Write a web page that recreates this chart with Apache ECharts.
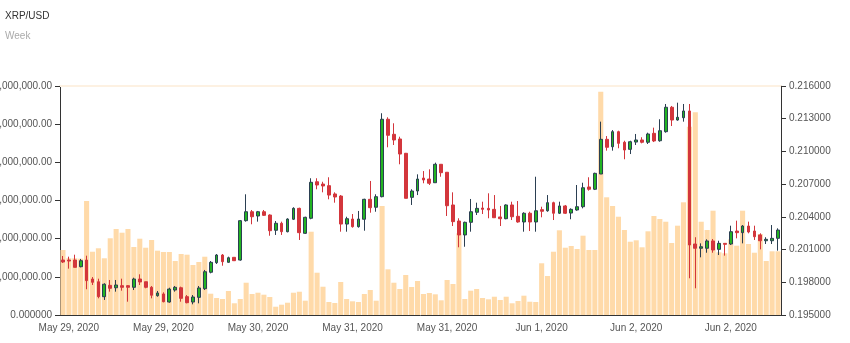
<!DOCTYPE html>
<html>
<head>
<meta charset="utf-8">
<title>XRP/USD</title>
<script src="https://cdn.jsdelivr.net/npm/echarts@6/dist/echarts.min.js"></script>
<style>
  html, body { margin: 0; padding: 0; background: #fff; }
  #chart { width: 850px; height: 343px; }
</style>
</head>
<body>
<div id="chart"></div>
<script>
// Hourly XRP/USD candles starting May 29, 2020 00:00 UTC
const startTime = Date.UTC(2020, 4, 29, 0, 0, 0);
const hourCount = 122;
const monthNames = ['Jan', 'Feb', 'Mar', 'Apr', 'May', 'Jun', 'Jul', 'Aug', 'Sep', 'Oct', 'Nov', 'Dec'];
const categories = [];
for (let i = 0; i < hourCount; i++) {
  const d = new Date(startTime + i * 3600 * 1000);
  categories.push(monthNames[d.getUTCMonth()] + ' ' + d.getUTCDate() + ', ' + d.getUTCFullYear());
}

const opens = [
  0.20004, 0.20004, 0.20004, 0.19943, 0.20004, 0.19830, 0.19805, 0.19668, 0.19772, 0.19750,
  0.19769, 0.19769, 0.19754, 0.19830, 0.19805, 0.19754, 0.19677, 0.19693, 0.19619, 0.19729,
  0.19750, 0.19668, 0.19619, 0.19662, 0.19741, 0.19892, 0.19980, 0.20050, 0.19983, 0.20029,
  0.20004, 0.20365, 0.20447, 0.20408, 0.20447, 0.20417, 0.20277, 0.20341, 0.20264, 0.20378,
  0.20478, 0.20249, 0.20387, 0.20722, 0.20701, 0.20686, 0.20610, 0.20591, 0.20334, 0.20380,
  0.20310, 0.20378, 0.20561, 0.20488, 0.20585, 0.21295, 0.21157, 0.21114, 0.20983, 0.20579,
  0.20637, 0.20756, 0.20747, 0.20713, 0.20882, 0.20809, 0.20509, 0.20362, 0.20234, 0.20350,
  0.20442, 0.20481, 0.20478, 0.20469, 0.20399, 0.20383, 0.20509, 0.20405, 0.20353, 0.20433,
  0.20353, 0.20466, 0.20456, 0.20530, 0.20433, 0.20500, 0.20435, 0.20463, 0.20493, 0.20674,
  0.20653, 0.20793, 0.21111, 0.21043, 0.21181, 0.21084, 0.21019, 0.21086, 0.21105, 0.21084,
  0.21166, 0.21098, 0.21181, 0.21405, 0.21288, 0.21309, 0.21371, 0.20151, 0.20112, 0.20112,
  0.20179, 0.20102, 0.20157, 0.20151, 0.20270, 0.20255, 0.20316, 0.20270, 0.20234, 0.20181,
  0.20181, 0.20203
];
const closes = [
  0.19986, 0.19995, 0.19937, 0.19998, 0.19815, 0.19800, 0.19668, 0.19782, 0.19745, 0.19775,
  0.19754, 0.19754, 0.19830, 0.19803, 0.19754, 0.19681, 0.19702, 0.19622, 0.19738, 0.19754,
  0.19653, 0.19613, 0.19665, 0.19748, 0.19897, 0.19983, 0.20050, 0.19989, 0.20025, 0.19998,
  0.20365, 0.20447, 0.20401, 0.20447, 0.20414, 0.20273, 0.20341, 0.20264, 0.20380, 0.20478,
  0.20255, 0.20396, 0.20717, 0.20692, 0.20683, 0.20600, 0.20582, 0.20334, 0.20383, 0.20310,
  0.20380, 0.20561, 0.20484, 0.20585, 0.21295, 0.21148, 0.21105, 0.20976, 0.20570, 0.20637,
  0.20747, 0.20738, 0.20708, 0.20882, 0.20805, 0.20502, 0.20356, 0.20234, 0.20350, 0.20447,
  0.20478, 0.20469, 0.20463, 0.20392, 0.20383, 0.20509, 0.20401, 0.20353, 0.20433, 0.20353,
  0.20456, 0.20451, 0.20530, 0.20433, 0.20500, 0.20433, 0.20469, 0.20493, 0.20667, 0.20653,
  0.20799, 0.21111, 0.21038, 0.21181, 0.21074, 0.21013, 0.21089, 0.21105, 0.21084, 0.21160,
  0.21096, 0.21190, 0.21405, 0.21288, 0.21313, 0.21371, 0.20142, 0.20112, 0.20126, 0.20179,
  0.20096, 0.20157, 0.20148, 0.20264, 0.20255, 0.20316, 0.20261, 0.20218, 0.20181, 0.20194,
  0.20203, 0.20279
];
const lows = [
  0.19977, 0.19925, 0.19937, 0.19937, 0.19736, 0.19775, 0.19653, 0.19638, 0.19714, 0.19714,
  0.19723, 0.19622, 0.19729, 0.19775, 0.19745, 0.19653, 0.19668, 0.19616, 0.19613, 0.19714,
  0.19622, 0.19607, 0.19598, 0.19607, 0.19729, 0.19882, 0.19968, 0.19952, 0.19980, 0.19995,
  0.19998, 0.20356, 0.20332, 0.20356, 0.20408, 0.20227, 0.20234, 0.20234, 0.20258, 0.20371,
  0.20188, 0.20243, 0.20378, 0.20653, 0.20625, 0.20561, 0.20530, 0.20264, 0.20264, 0.20301,
  0.20301, 0.20273, 0.20438, 0.20447, 0.20579, 0.21038, 0.21059, 0.20882, 0.20570, 0.20509,
  0.20600, 0.20708, 0.20692, 0.20713, 0.20768, 0.20408, 0.20316, 0.20121, 0.20126, 0.20264,
  0.20417, 0.20426, 0.20387, 0.20392, 0.20316, 0.20378, 0.20371, 0.20346, 0.20264, 0.20270,
  0.20264, 0.20396, 0.20447, 0.20371, 0.20426, 0.20426, 0.20378, 0.20456, 0.20478, 0.20640,
  0.20646, 0.20793, 0.21007, 0.21007, 0.21029, 0.20928, 0.20976, 0.21059, 0.21074, 0.21068,
  0.21086, 0.21089, 0.21172, 0.21233, 0.21282, 0.21273, 0.19837, 0.19745, 0.20029, 0.20071,
  0.20071, 0.20050, 0.20044, 0.20142, 0.20203, 0.20157, 0.20249, 0.20188, 0.20102, 0.20151,
  0.20151, 0.20090
];
const highs = [
  0.20041, 0.20035, 0.20053, 0.20014, 0.20044, 0.19848, 0.19833, 0.19791, 0.19821, 0.19821,
  0.19833, 0.19775, 0.19842, 0.19873, 0.19805, 0.19766, 0.19720, 0.19708, 0.19750, 0.19766,
  0.19760, 0.19683, 0.19683, 0.19766, 0.19913, 0.19995, 0.20059, 0.20059, 0.20035, 0.20032,
  0.20371, 0.20607, 0.20463, 0.20454, 0.20463, 0.20423, 0.20362, 0.20356, 0.20387, 0.20488,
  0.20484, 0.20401, 0.20754, 0.20754, 0.20722, 0.20763, 0.20625, 0.20600, 0.20401, 0.20426,
  0.20454, 0.20566, 0.20729, 0.20607, 0.21350, 0.21313, 0.21258, 0.21135, 0.20986, 0.20653,
  0.20790, 0.20820, 0.20836, 0.20897, 0.20882, 0.20809, 0.20625, 0.20387, 0.20356, 0.20564,
  0.20530, 0.20539, 0.20616, 0.20600, 0.20500, 0.20515, 0.20539, 0.20545, 0.20442, 0.20447,
  0.20768, 0.20493, 0.20600, 0.20539, 0.20539, 0.20509, 0.20478, 0.20692, 0.20713, 0.20763,
  0.20805, 0.21273, 0.21141, 0.21196, 0.21190, 0.21098, 0.21098, 0.21160, 0.21130, 0.21172,
  0.21218, 0.21295, 0.21435, 0.21417, 0.21447, 0.21435, 0.21435, 0.20213, 0.20157, 0.20194,
  0.20197, 0.20181, 0.20157, 0.20319, 0.20365, 0.20325, 0.20356, 0.20319, 0.20249, 0.20213,
  0.20325, 0.20295
];
const volumes = [
  1703000, 1486000, 1486000, 1475000, 2987000, 1658000, 1748000, 1486000, 2010000, 2253000,
  2156000, 2253000, 1782000, 1999000, 1763000, 1965000, 1685000, 1651000, 1651000, 1415000,
  1598000, 1580000, 1310000, 1389000, 1527000, 558000, 445000, 419000, 629000, 307000,
  419000, 846000, 550000, 584000, 532000, 472000, 217000, 270000, 322000, 584000,
  610000, 375000, 2182000, 1108000, 741000, 341000, 314000, 865000, 419000, 359000,
  341000, 550000, 655000, 375000, 2856000, 1197000, 846000, 681000, 1048000, 734000,
  891000, 550000, 576000, 542000, 385000, 917000, 812000, 2141000, 419000, 637000,
  681000, 445000, 411000, 479000, 393000, 479000, 307000, 367000, 506000, 348000,
  341000, 1355000, 1022000, 1658000, 2219000, 1763000, 1808000, 1729000, 2078000, 1703000,
  1703000, 5850000, 3084000, 2856000, 2575000, 2227000, 1920000, 1957000, 1774000, 2193000,
  2594000, 2515000, 2444000, 1886000, 2340000, 2953000, 4933000, 5311000, 2444000, 2227000,
  2733000, 1643000, 1617000, 1983000, 1816000, 2733000, 1860000, 1632000, 2122000, 1415000,
  1669000, 1669000
];

// Axis ranges and tick steps
const volumeMax = 6000000;
const volumeStep = 1000000;
const priceMin = 0.195;
const priceMax = 0.216;
const priceStep = 0.003;

// ECharts candlestick order: [open, close, lowest, highest]
const candles = opens.map((o, i) => [o, closes[i], lows[i], highs[i]]);

const fontFamily = '"Liberation Sans", Arial, Helvetica, sans-serif';
const axisColor = '#333';
const labelColor = '#555';
const labelSize = 10;

const chart = echarts.init(document.getElementById('chart'), null, { renderer: 'canvas' });
chart.setOption({
  animation: false,
  backgroundColor: '#fff',
  textStyle: { fontFamily: fontFamily },
  title: {
    text: 'XRP/USD',
    subtext: 'Week',
    left: 0,
    top: 6,
    padding: 5,
    itemGap: 10,
    textStyle: { fontSize: 10, fontWeight: 'normal', color: '#333', fontFamily: fontFamily },
    subtextStyle: { fontSize: 10, color: '#aaa', fontFamily: fontFamily }
  },
  grid: { left: 60, right: 69, top: 86, bottom: 28, containLabel: false, outerBoundsMode: 'none' },
  xAxis: [
    {
      type: 'category',
      data: categories,
      boundaryGap: true,
      axisLine: { lineStyle: { color: axisColor, width: 1 } },
      axisTick: {
        alignWithLabel: true,
        length: 5,
        interval: (i) => i % 16 === 9,
        lineStyle: { color: axisColor }
      },
      axisLabel: {
        interval: (i) => i % 16 === 1,
        color: labelColor,
        fontSize: labelSize,
        margin: 8,
        fontFamily: fontFamily
      },
      splitLine: { show: false }
    },
    {
      type: 'category',
      position: 'top',
      data: categories,
      boundaryGap: true,
      axisLine: { lineStyle: { color: '#fdf1e2', width: 2 } },
      axisTick: { show: false },
      axisLabel: { show: false },
      splitLine: { show: false }
    }
  ],
  yAxis: [
    {
      type: 'value',
      position: 'left',
      min: 0,
      max: volumeMax,
      interval: volumeStep,
      axisLine: { show: true, lineStyle: { color: axisColor } },
      axisTick: { show: true, length: 5, lineStyle: { color: axisColor } },
      splitLine: { show: false },
      axisLabel: {
        color: labelColor,
        fontSize: labelSize,
        margin: 8,
        fontFamily: fontFamily,
        formatter: (v) => v === 0 ? '0.000000' :
          v.toLocaleString('en-US', { minimumFractionDigits: 2, maximumFractionDigits: 2 })
      }
    },
    {
      type: 'value',
      position: 'right',
      min: priceMin,
      max: priceMax,
      interval: priceStep,
      scale: true,
      axisLine: { show: true, lineStyle: { color: axisColor } },
      axisTick: { show: true, length: 5, lineStyle: { color: axisColor } },
      splitLine: { show: false },
      axisLabel: {
        color: labelColor,
        fontSize: labelSize,
        margin: 8,
        fontFamily: fontFamily,
        formatter: (v) => v.toFixed(6)
      }
    }
  ],
  series: [
    {
      name: 'Volume',
      type: 'bar',
      xAxisIndex: 0,
      yAxisIndex: 0,
      data: volumes,
      barCategoryGap: '14%',
      itemStyle: { color: '#ffdaa9' },
      z: 1
    },
    {
      name: 'XRP/USD',
      type: 'candlestick',
      xAxisIndex: 0,
      yAxisIndex: 1,
      data: candles,
      barWidth: '55%',
      itemStyle: {
        color: '#22b422',
        color0: '#d3363c',
        borderColor: '#2b3f52',
        borderColor0: '#d3363c',
        borderWidth: 1
      },
      z: 3
    }
  ]
});
</script>
</body>
</html>
